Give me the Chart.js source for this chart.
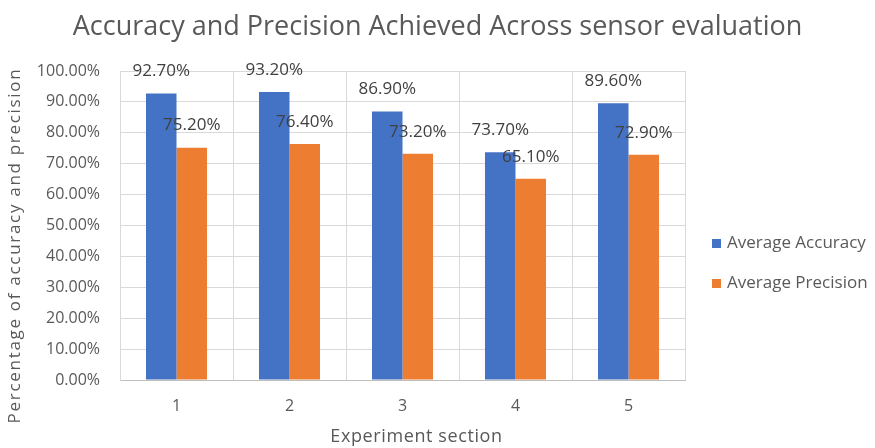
<!DOCTYPE html>
<html>
<head>
<meta charset="utf-8">
<script src="https://cdn.jsdelivr.net/npm/chart.js@4.4.1/dist/chart.umd.min.js"></script>
<style>
  html, body { margin: 0; padding: 0; background: #ffffff; }
  #wrap { width: 875px; height: 448px; }
</style>
</head>
<body>
<div id="wrap"><canvas id="c" width="875" height="448"></canvas></div>
<script>
// Experiment sections and the two measured averages (in percent)
const sections = ['1', '2', '3', '4', '5'];
const avgAccuracy = [92.7, 93.2, 86.9, 73.7, 89.6];
const avgPrecision = [75.2, 76.4, 73.2, 65.1, 72.9];
const seriesNames = ['Average Accuracy', 'Average Precision'];
const seriesColors = ['#4472C4', '#ED7D31'];
const yTicks = [0, 10, 20, 30, 40, 50, 60, 70, 80, 90, 100];

const chartTitle = 'Accuracy and Precision Achieved Across sensor evaluation';
const xTitle = 'Experiment section';
const yTitle = 'Percentage of accuracy and precision';

const FONT = '"Open Sans", "Noto Sans", sans-serif';
const TEXT = '#595959';

// Titles, value labels above each bar and the legend beside the plot
const annotate = {
  id: 'annotate',
  afterDatasetsDraw(chart) {
    const ctx = chart.ctx;
    ctx.save();
    ctx.font = '17px ' + FONT;
    ctx.fillStyle = '#404040';
    ctx.textAlign = 'center';
    ctx.textBaseline = 'middle';
    chart.data.datasets.forEach((ds, i) => {
      chart.getDatasetMeta(i).data.forEach((bar, j) => {
        ctx.fillText(ds.data[j].toFixed(2) + '%', bar.x, bar.y - 22);
      });
    });
    ctx.restore();
  },
  afterDraw(chart) {
    const ctx = chart.ctx;
    const area = chart.chartArea;

    ctx.save();
    ctx.fillStyle = TEXT;
    ctx.textAlign = 'center';
    ctx.textBaseline = 'middle';

    // chart title
    ctx.font = '27px ' + FONT;
    ctx.fillText(chartTitle, chart.width / 2, 27);

    // x axis title
    ctx.font = '18px ' + FONT;
    ctx.letterSpacing = '0.6px';
    ctx.fillText(xTitle, (area.left + area.right) / 2 + 14, 437);

    // y axis title
    ctx.font = '17px ' + FONT;
    ctx.letterSpacing = '1.7px';
    ctx.translate(15, (area.top + area.bottom) / 2 + 20);
    ctx.rotate(-Math.PI / 2);
    ctx.fillText(yTitle, 0, 0);
    ctx.restore();

    // legend
    ctx.save();
    const x0 = area.right + 27;
    const yMid = (area.top + area.bottom) / 2 + 38;
    ctx.font = '17px ' + FONT;
    ctx.textAlign = 'left';
    ctx.textBaseline = 'middle';
    chart.data.datasets.forEach((ds, i) => {
      const y = yMid + (i - 0.5) * 40;
      ctx.fillStyle = ds.backgroundColor;
      ctx.fillRect(x0, y - 4.5, 9, 9);
      ctx.fillStyle = TEXT;
      ctx.fillText(ds.label, x0 + 15, y);
    });
    ctx.restore();
  }
};

new Chart(document.getElementById('c'), {
  type: 'bar',
  data: {
    labels: sections,
    datasets: [
      { label: seriesNames[0], data: avgAccuracy, backgroundColor: seriesColors[0] },
      { label: seriesNames[1], data: avgPrecision, backgroundColor: seriesColors[1] }
    ]
  },
  options: {
    responsive: false,
    animation: false,
    devicePixelRatio: 1,
    datasets: { bar: { barPercentage: 1.0, categoryPercentage: 0.54 } },
    layout: { padding: { left: 0, right: 190, top: 71, bottom: 0 } },
    plugins: {
      legend: { display: false },
      tooltip: { enabled: false },
      title: { display: false }
    },
    scales: {
      x: {
        grid: { color: '#d9d9d9', drawTicks: false, offset: true },
        border: { color: '#bfbfbf' },
        ticks: { color: TEXT, font: { family: FONT, size: 16 }, padding: 17 },
        afterFit(scale) { scale.height = 68; }
      },
      y: {
        min: 0,
        max: 100,
        grid: { color: '#d9d9d9', drawTicks: false },
        border: { color: '#d9d9d9' },
        afterBuildTicks(scale) { scale.ticks = yTicks.map(v => ({ value: v })); },
        ticks: {
          color: TEXT,
          font: { family: FONT, size: 16 },
          padding: 20,
          callback: v => v.toFixed(2) + '%'
        },
        afterFit(scale) { scale.width = 120; }
      }
    }
  },
  plugins: [annotate]
});
</script>
</body>
</html>
